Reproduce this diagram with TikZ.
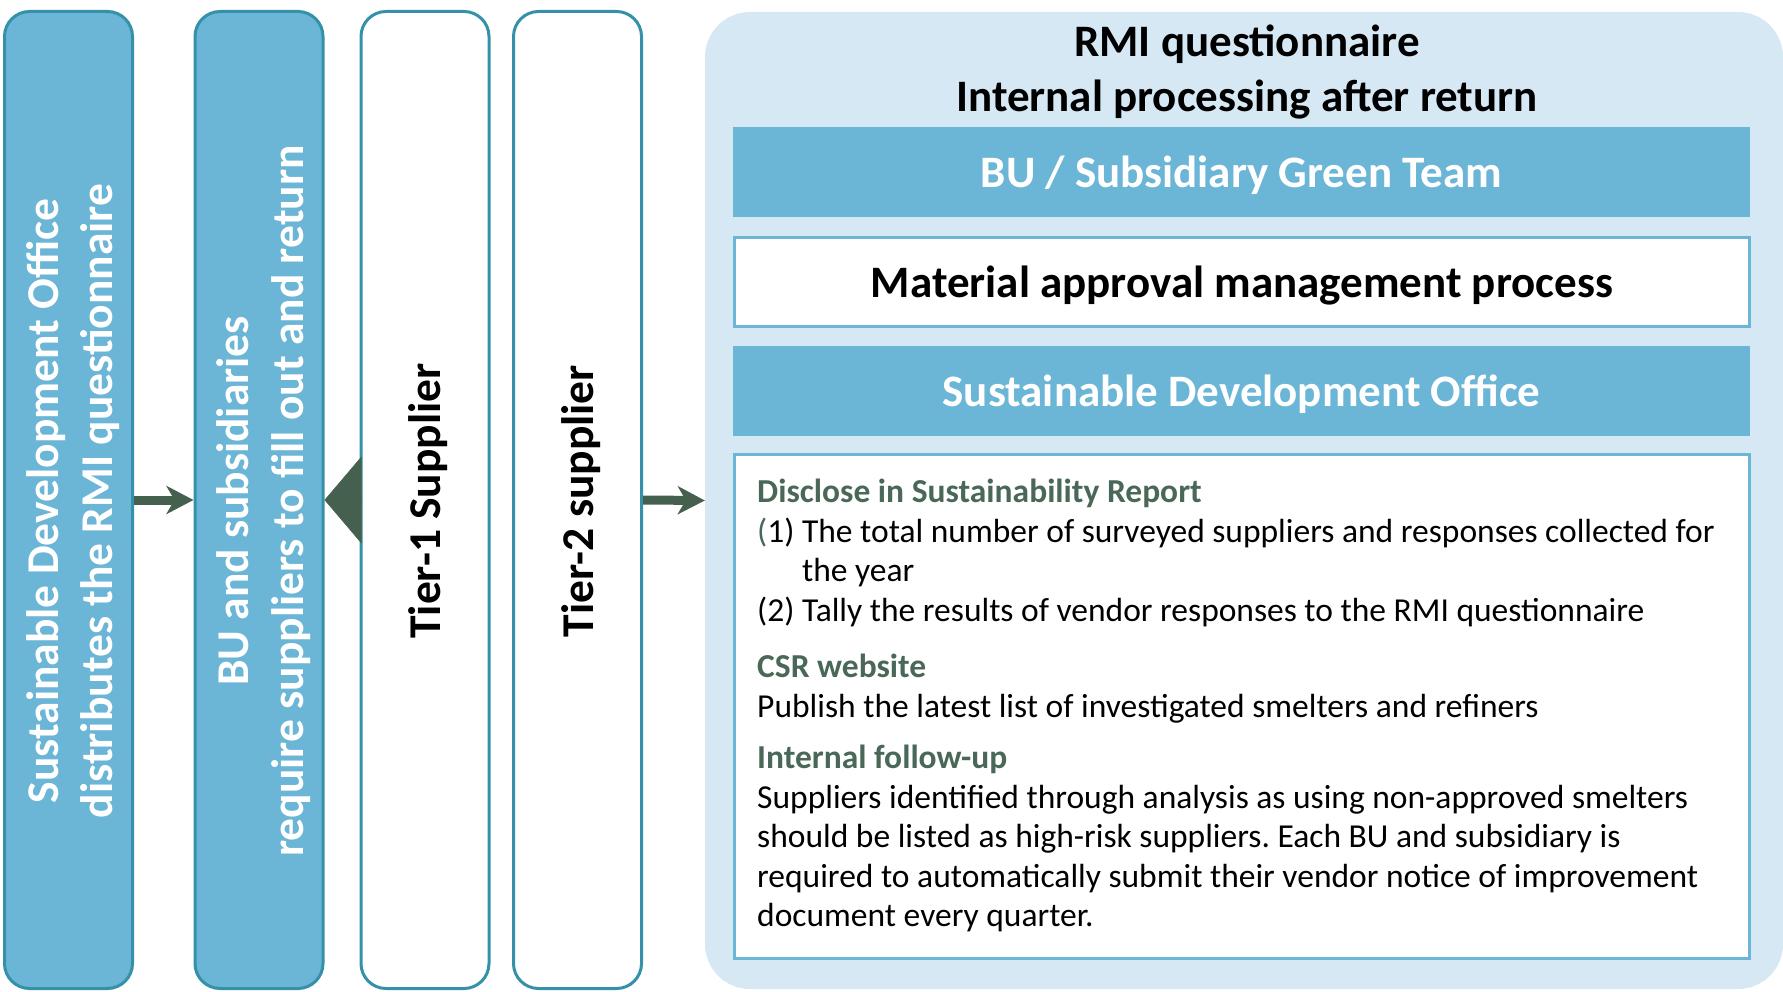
\documentclass[tikz,border=0pt]{standalone}
\usepackage{fontspec}
\setmainfont{Carlito}
\frenchspacing
\usetikzlibrary{arrows.meta}
\definecolor{colfill}{RGB}{107,181,214}
\definecolor{colline}{RGB}{52,145,168}
\definecolor{panelfill}{RGB}{214,232,244}
\definecolor{arrowgreen}{RGB}{70,96,80}
\definecolor{headgreen}{RGB}{74,104,88}

\begin{document}
\begin{tikzpicture}[x=1pt,y=-1pt]
        \tikzset{column/.style={draw=colline,line width=3pt,rounded corners=25pt,
                minimum width=128pt,minimum height=977pt,inner sep=0pt},
            bluecol/.style={column,fill=colfill},
            whitecol/.style={column,fill=white},
            coltext/.style={rotate=90,anchor=base,inner sep=0pt,
                font=\fontsize{45.5}{54}\selectfont\bfseries},
            bar/.style={fill=colfill,minimum width=1017pt,minimum height=90pt,
                text=white,font=\fontsize{45}{54}\selectfont\bfseries,
                text height=31pt,text depth=0pt},
            titletext/.style={anchor=base,inner sep=0pt,
                font=\fontsize{45}{54}\selectfont\bfseries},
            flow/.style={draw=arrowgreen,line width=9pt,
                -{Stealth[length=27pt,width=28pt,inset=8pt]}}}
        \useasboundingbox (0,0) rectangle (1783,992);
        % four columns on the left
        \node[bluecol] (sdo) at (68.5,500) {};
        \node[bluecol] (bu) at (259,500) {};
        \node[whitecol] (tierone) at (425,500) {};
        \node[whitecol] (tiertwo) at (577.5,500) {};
        \node[coltext,text=white] (sdoa) at (58,501) {Sustainable Development Office};
        \node[coltext,text=white] (sdob) at (112,501) {distributes the RMI questionnaire};
        \node[coltext,text=white] (bua) at (248,501) {BU and subsidiaries};
        \node[coltext,text=white] (bub) at (303,501) {require suppliers to fill out and return};
        \node[coltext] (tieronetext) at (440,501) {Tier-1 Supplier};
        \node[coltext] (tiertwotext) at (593,501) {Tier-2 supplier};
        % panel on the right
        \node[fill=panelfill,rounded corners=45pt,minimum width=1078pt,
            minimum height=977pt] (panel) at (1244,500.5) {};
        \node[titletext] (title) at (1247,57) {RMI questionnaire};
        \node[titletext] (subtitle) at (1247,112) {Internal processing after return};
        \node[bar] (green) at (1241.5,172) {BU / Subsidiary Green Team};
        \node[bar,fill=white,draw=colfill,line width=3pt,text=black,
            minimum width=1015pt,minimum height=89pt] (material) at (1242,282)
            {Material approval management process};
        \node[bar] (office) at (1241.5,391) {Sustainable Development Office};
        \node[draw=colfill,line width=3pt,fill=white,minimum width=1015pt,
            minimum height=504pt] (detailbox) at (1242,706.5) {};
        \node[anchor=north west,align=left,inner sep=0pt,
            font=\fontsize{33.5}{39.5}\selectfont] (details) at (757,479) {%
            {\bfseries\color{headgreen}Disclose in Sustainability Report}\\
            {\color{headgreen}(}1) The total number of surveyed suppliers and responses collected for\\
            \hphantom{(1) }the year\\
            (2) Tally the results of vendor responses to the RMI questionnaire\\[17pt]
            {\bfseries\color{headgreen}CSR website}\\
            Publish the latest list of investigated smelters and refiners\\[12pt]
            {\bfseries\color{headgreen}Internal follow-up}\\
            Suppliers identified through analysis as using non-approved smelters\\
            should be listed as high-risk suppliers. Each BU and subsidiary is\\
            required to automatically submit their vendor notice of improvement\\
            document every quarter.};
        % arrows
        \draw[flow] (sdo.east) -- (bu.west);
        \draw[flow] (tiertwo.east) -- (panel.west);
        \draw[draw=arrowgreen,fill=arrowgreen,line width=0.5pt,shorten <=1.5pt,
            -{Triangle[length=37pt,width=87pt]}] (tierone.west) -- (bu.east);
    \end{tikzpicture}
\end{document}
